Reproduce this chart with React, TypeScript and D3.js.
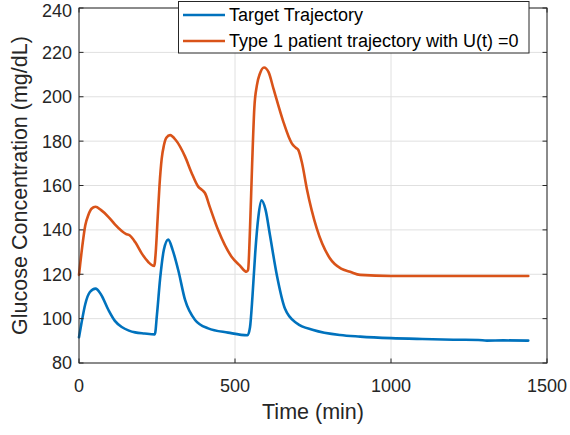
import React from 'react';
import * as d3 from 'd3';

// Target trajectory (blue)
const targetTime = [0, 8, 20, 35, 53, 70, 94, 115, 137, 160, 180, 210, 243, 250, 260, 272, 286, 300, 318, 340, 372, 414, 478, 540, 548, 556, 565, 575, 585, 598, 612, 634, 660, 698, 751, 837, 901, 1000, 1100, 1200, 1280, 1307, 1360, 1440];
const targetGlucose = [91.6, 98, 106.5, 112, 113.5, 111, 104, 99, 96.2, 94.6, 93.8, 93.3, 92.9, 102, 118, 131, 135.6, 131, 121.9, 108.4, 99.4, 95.6, 93.7, 92.5, 96, 110, 130, 146, 153.3, 149, 137.7, 119.7, 104.6, 97.9, 94.9, 92.6, 91.9, 91.2, 90.8, 90.5, 90.4, 90.1, 90.2, 90.1];

// Type 1 patient, U(t) = 0 (orange)
const patientTime = [0, 10, 20, 30, 40, 53, 70, 94, 115, 137, 150, 163, 180, 201, 222, 241, 246, 252, 258, 265, 272, 280, 292, 310, 340, 360, 382, 396, 404, 420, 446, 489, 515, 537, 542, 548, 555, 562, 570, 580, 593, 608, 623, 655, 672, 682, 695, 703, 715, 730, 762, 804, 840, 869, 901, 1000, 1200, 1440];
const patientGlucose = [119.7, 132, 142, 146.7, 149.5, 150.4, 149, 145.9, 142.5, 139.5, 138.2, 137.5, 134.5, 129.4, 125.5, 123.7, 130, 145, 160, 172, 178, 181.5, 182.7, 180.5, 173, 166, 159.5, 157.8, 156.5, 150, 139.9, 127.9, 124, 121.1, 122, 140, 170, 195, 205, 210.5, 213.2, 211, 203.8, 188.7, 182, 179, 177, 176, 170, 158.7, 140.7, 127.2, 122.5, 121.1, 119.7, 119.2, 119.2, 119.2];

const xTicks = [0, 500, 1000, 1500];
const yTicks = [80, 100, 120, 140, 160, 180, 200, 220, 240];

const seriesNames = ['Target Trajectory', 'Type 1 patient trajectory with U(t) =0'];
const seriesColors = ['#0072BD', '#D95319'];

const W = 570;
const H = 435;
const margin = { top: 8, right: 23, bottom: 72, left: 79 };
const font = 'Arial, "Liberation Sans", Helvetica, sans-serif';
const axisColor = '#262626';

export default function App() {
  const innerW = W - margin.left - margin.right;
  const innerH = H - margin.top - margin.bottom;

  const x = d3.scaleLinear().domain([0, 1500]).range([0, innerW]);
  const y = d3.scaleLinear().domain([80, 240]).range([innerH, 0]);

  const line = d3.line<[number, number]>()
    .x(d => x(d[0]))
    .y(d => y(d[1]))
    .curve(d3.curveMonotoneX);

  const series = [
    targetTime.map((t, i) => [t, targetGlucose[i]] as [number, number]),
    patientTime.map((t, i) => [t, patientGlucose[i]] as [number, number]),
  ];

  const tickLen = 4.5;

  return (
    <div style={{ position: 'absolute', left: 0, top: 0 }}>
      <svg width={W} height={H} style={{ display: 'block', background: '#fff' }}>
        <g transform={`translate(${margin.left},${margin.top})`}>
          {/* grid */}
          {xTicks.map(t => (
            <line key={'gx' + t} x1={x(t)} x2={x(t)} y1={0} y2={innerH} stroke="#e0e0e0" strokeWidth={1} />
          ))}
          {yTicks.map(t => (
            <line key={'gy' + t} x1={0} x2={innerW} y1={y(t)} y2={y(t)} stroke="#e0e0e0" strokeWidth={1} />
          ))}

          {/* data lines */}
          {series.map((s, i) => (
            <path key={i} d={line(s) || ''} fill="none" stroke={seriesColors[i]} strokeWidth={2.6}
              strokeLinejoin="round" strokeLinecap="round" />
          ))}

          {/* axes box */}
          <rect x={0} y={0} width={innerW} height={innerH} fill="none" stroke={axisColor} strokeWidth={1} />

          {/* ticks (inward, all four sides) */}
          {xTicks.map(t => (
            <g key={'tx' + t}>
              <line x1={x(t)} x2={x(t)} y1={innerH} y2={innerH - tickLen} stroke={axisColor} />
              <line x1={x(t)} x2={x(t)} y1={0} y2={tickLen} stroke={axisColor} />
              <text x={x(t)} y={innerH + 29} textAnchor="middle" fontSize={18} fontFamily={font} fill={axisColor}>{t}</text>
            </g>
          ))}
          {yTicks.map(t => (
            <g key={'ty' + t}>
              <line x1={0} x2={tickLen} y1={y(t)} y2={y(t)} stroke={axisColor} />
              <line x1={innerW} x2={innerW - tickLen} y1={y(t)} y2={y(t)} stroke={axisColor} />
              <text x={-7} y={Math.max(y(t), 3)} dy="0.36em" textAnchor="end" fontSize={18} fontFamily={font} fill={axisColor}>{t}</text>
            </g>
          ))}

          {/* axis labels */}
          <text x={innerW / 2} y={innerH + 56} textAnchor="middle" fontSize={21.5} fontFamily={font} fill={axisColor}>Time (min)</text>
          <text transform={`translate(${-52},${innerH / 2}) rotate(-90)`} textAnchor="middle" fontSize={21.5} fontFamily={font} fill={axisColor}>Glucose Concentration (mg/dL)</text>
        </g>

        {/* legend */}
        <g>
          <rect x={178.5} y={1.5} width={350.5} height={51.5} fill="#fff" stroke={axisColor} strokeWidth={1} />
          {seriesNames.map((name, i) => (
            <g key={name} transform={`translate(0,${15 + i * 26})`}>
              <line x1={183} x2={225} y1={0} y2={0} stroke={seriesColors[i]} strokeWidth={2.6} />
              <text x={229} y={0} dy="0.36em" fontSize={18} fontFamily={font} fill="#000">{name}</text>
            </g>
          ))}
        </g>
      </svg>
    </div>
  );
}
